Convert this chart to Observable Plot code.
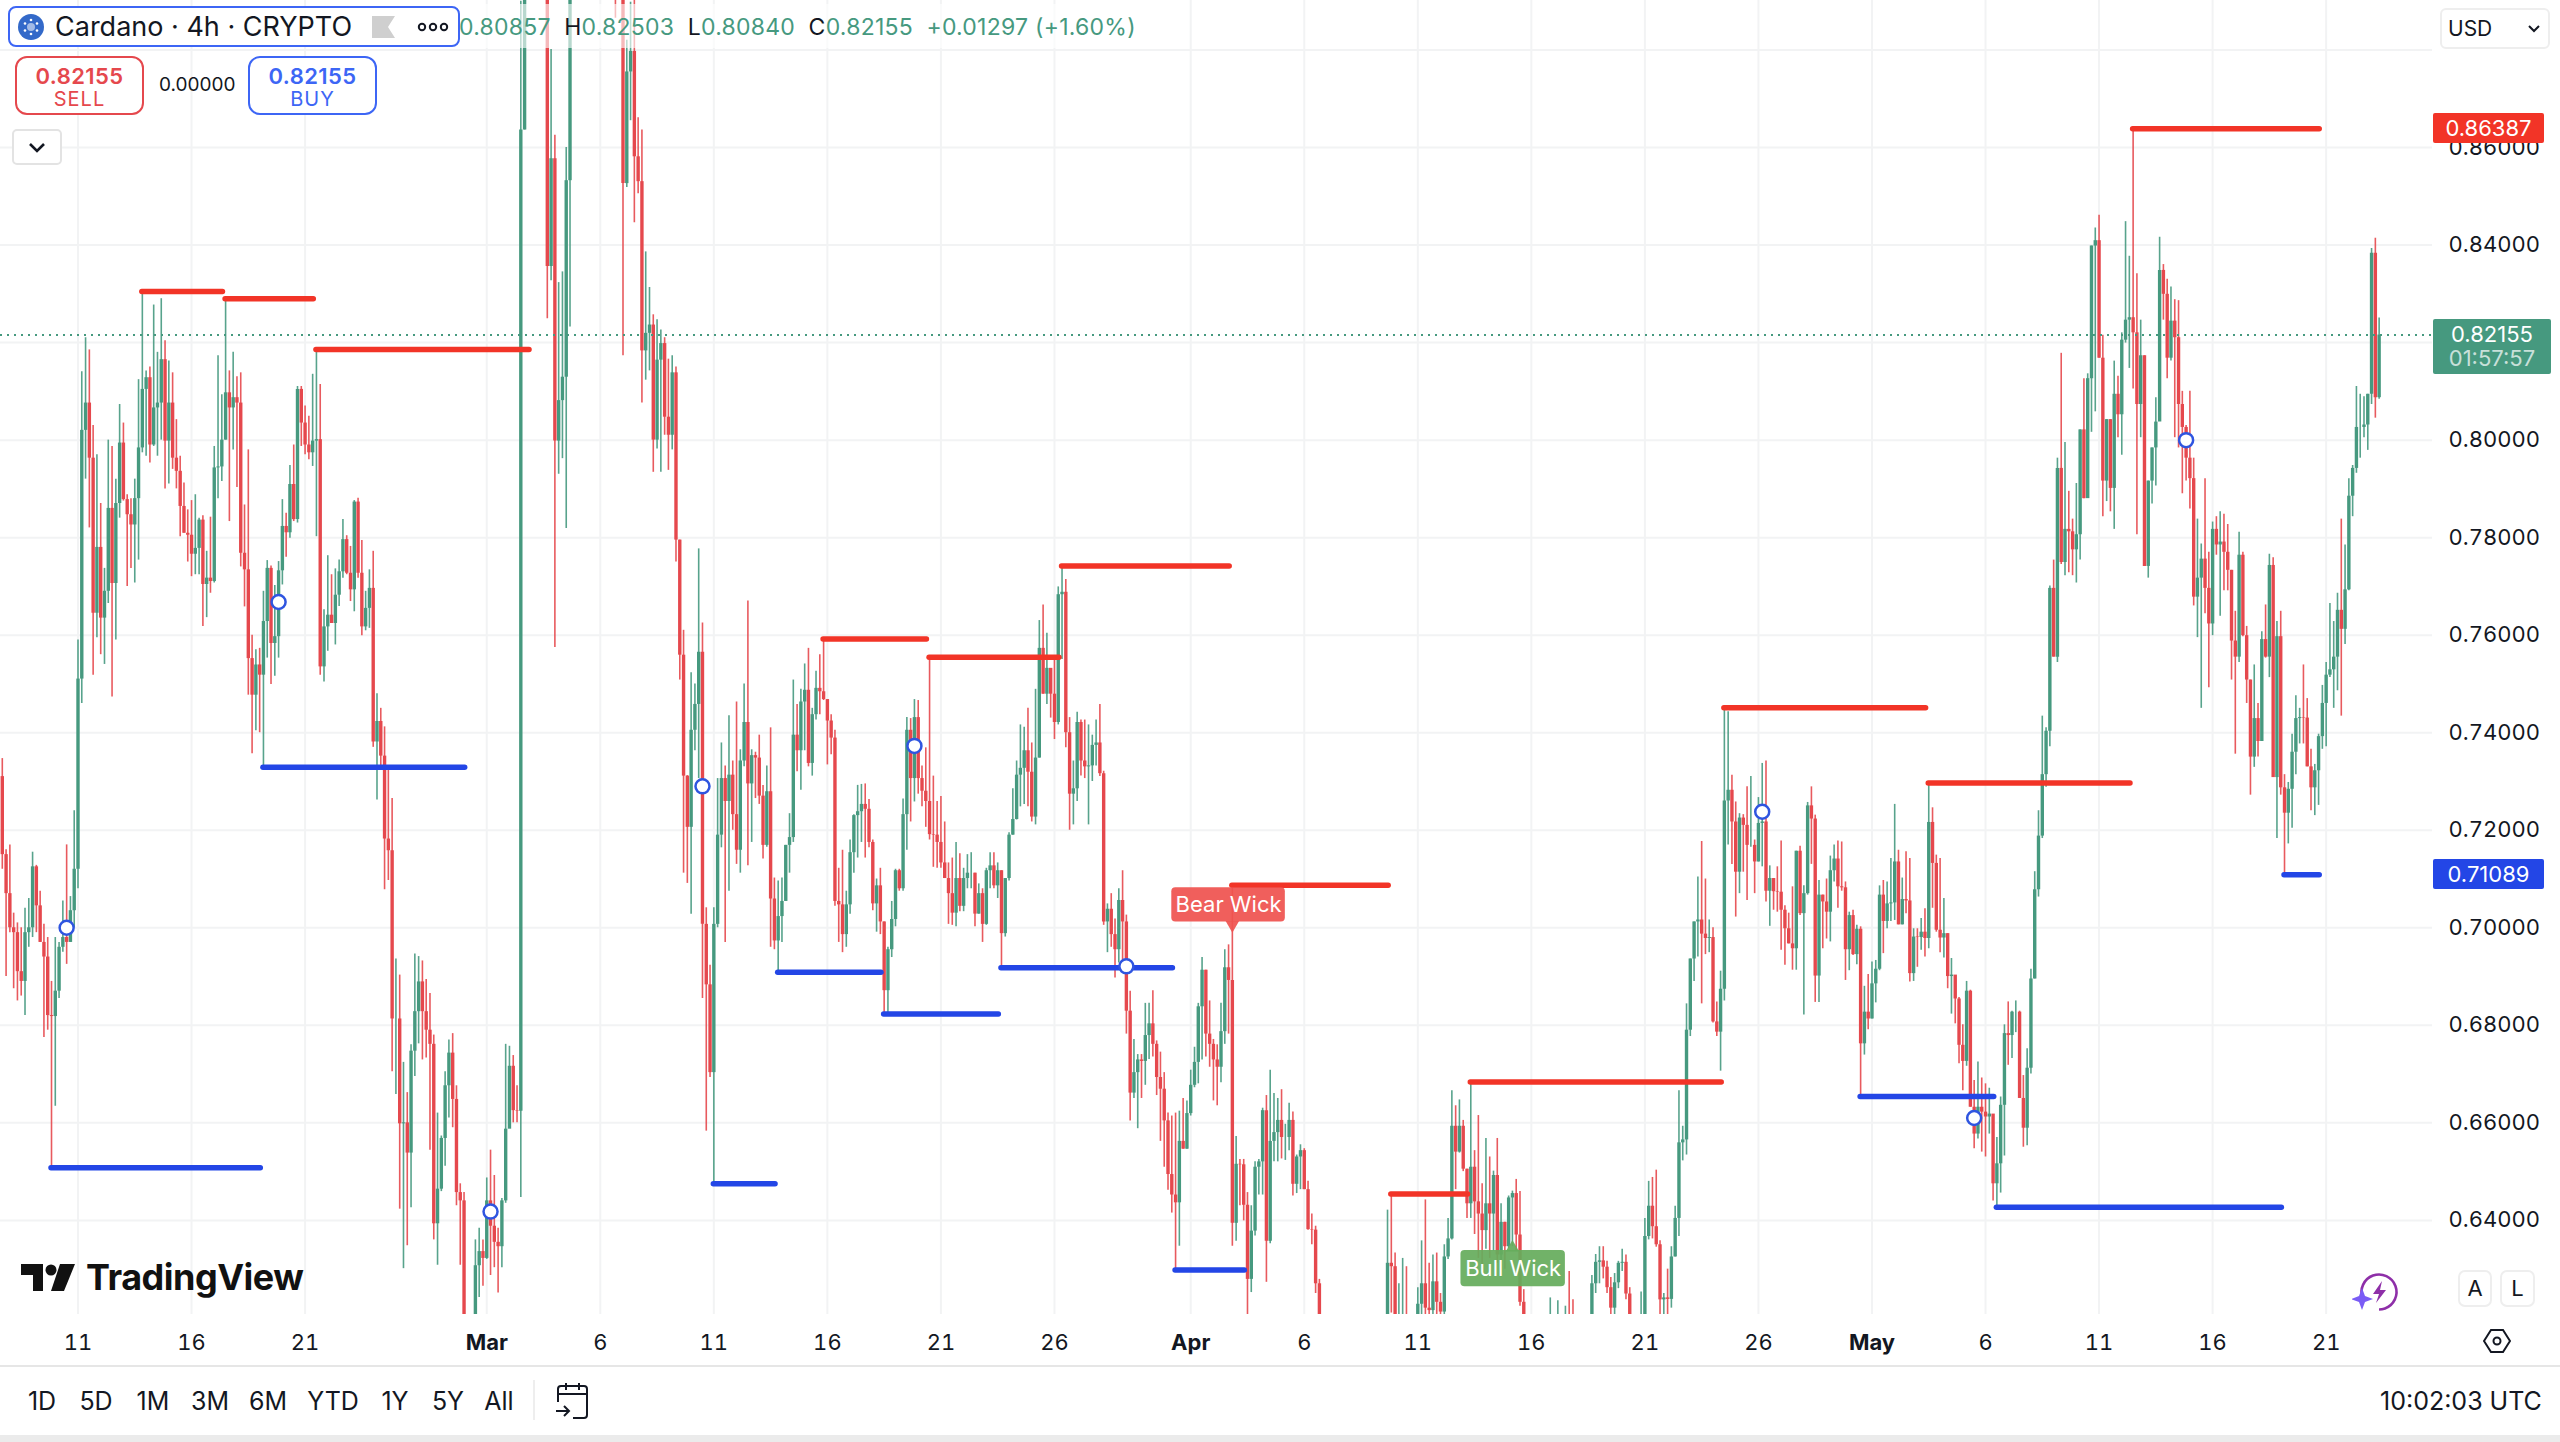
<!DOCTYPE html>
<html lang="en">
<head>
<meta charset="utf-8">
<title>Cardano 4h CRYPTO</title>
<script src="https://cdn.jsdelivr.net/npm/d3@7"></script>
<script src="https://cdn.jsdelivr.net/npm/@observablehq/plot@0.6"></script>
<style>
html,body{margin:0;padding:0;background:#fff;}
body{font-family:Inter,"Noto Sans",sans-serif;color:#131722;}
#page{position:relative;width:2560px;height:1442px;overflow:hidden;background:#fff;}
#page svg.plot{display:block;position:absolute;left:0;top:0;}
.ui{position:absolute;white-space:nowrap;box-sizing:border-box;}
.ui svg{display:block;}
.box{border-radius:12px;background:#fff;text-align:center;}
.price{color:#fff;font-size:22px;line-height:1;text-align:center;border-radius:2px;}
.rng{position:absolute;top:1387px;font-size:25px;line-height:28px;transform:translateX(-50%);color:#131722;}
</style>
</head>
<body>
<div id="page"></div>
<script>
const closes = [
7150,7070,7000,6990,6910,6890,6990,7000,7125,7045,
6970,6940,6820,6818,6870,6960,6980,6970,7035,7120,
7510,8020,8076,7963,7645,7780,7635,7690,7860,7706,
7870,7994,7878,7847,7826,7880,7984,8104,8128,7990,
8066,8076,8165,7998,8076,7963,7936,7864,7809,7805,
7766,7778,7836,7704,7717,7710,7943,7945,8000,8097,
8066,8087,8076,7768,7734,7552,7477,7539,7518,7628,
7737,7583,7597,7732,7823,7810,7909,7837,8104,8035,
7990,7974,7998,8001,7535,7617,7641,7624,7682,7730,
7796,7727,7693,7873,7727,7617,7655,7696,7381,7423,
7352,7182,7158,6813,6813,6598,6600,6538,6747,6828,
6889,6828,6790,6761,6393,6464,6568,6676,6743,6648,
6457,6440,6200,6120,6100,6307,6336,6322,6440,6388,
6355,6346,6440,6587,6716,6625,6624,8636,9800,10500,
10200,11000,10600,9900,8356,8577,7998,8081,8129,8532,
9000,9300,9600,9800,10100,9900,9500,9700,9400,9600,
9300,9500,9300,9400,8526,8755,8797,8581,8530,8183,
8219,8236,8000,8164,8198,8047,8010,8138,7795,7559,
7311,7206,7405,7458,7565,7007,6883,6703,7007,7190,
7306,7259,7313,7232,7159,7342,7421,7295,7353,7348,
7270,7169,7279,7059,6973,7023,7054,7169,7185,7395,
7363,7463,7487,7337,7437,7491,7484,7468,7424,7389,
7054,7047,6986,7047,7154,7230,7238,7253,7243,7175,
7049,7086,7012,6871,6955,7017,7117,7080,7232,7405,
7306,7431,7306,7280,7259,7191,7190,7175,7133,7101,
7070,7030,7101,7044,7101,7112,7112,7028,7070,7007,
7117,7127,7086,7117,6988,7101,7190,7222,7313,7327,
7363,7319,7227,7348,7573,7479,7532,7479,7421,7683,
7688,7400,7274,7285,7421,7342,7330,7332,7374,7379,
7316,7012,7038,6986,6955,7056,7012,6829,6661,6703,
6729,6726,6779,6803,6761,6693,6669,6604,6494,6452,
6436,6562,6546,6619,6677,6724,6838,6913,6782,6761,
6729,6714,6787,6918,6892,6394,6515,6514,6431,6279,
6378,6509,6520,6625,6357,6562,6580,6605,6570,6570,
6605,6474,6530,6543,6463,6381,6380,6270,6120,5900,
5750,5800,5650,5600,5700,5850,5750,5600,5450,5300,
5500,5650,5550,5700,5900,6100,6312,6305,6150,6180,
6200,6160,6120,6150,6228,6270,6220,6215,6274,6232,
6212,6325,6362,6593,6540,6593,6505,6434,6509,6438,
6413,6379,6434,6413,6492,6329,6396,6346,6446,6455,
6370,6232,6201,6170,6150,6120,6170,6140,6110,6160,
6130,6170,6140,6180,6160,6130,6110,6100,6120,6150,
6270,6314,6317,6304,6262,6220,6272,6312,6314,6249,
6195,6150,6120,6180,6367,6429,6387,6350,6237,6241,
6238,6325,6404,6559,6565,6790,6936,7012,7016,6987,
6978,6980,6807,6786,6874,7260,7282,7217,7114,7225,
7210,7169,7169,7135,7214,7217,7075,7101,7074,7073,
7036,6998,6967,6957,7157,7029,7070,7250,7223,6901,
7067,7053,7032,7117,7141,7084,7082,6955,7025,6945,
6997,6762,6827,6813,6885,6915,7067,7013,7049,7051,
7135,7006,7058,7055,6906,6981,6980,6991,6978,7216,
7132,6995,6979,6988,6900,6903,6854,6759,6726,6870,
6632,6577,6632,6622,6612,6618,6475,6516,6636,6783,
6779,6827,6827,6650,6589,6712,6895,7078,7188,7314,
7403,7696,7555,7942,7749,7817,7812,7775,7806,8021,
7880,8126,8398,8409,8168,7916,8042,7901,8094,8052,
8205,8246,8251,8220,8073,8173,7741,7916,7984,8037,
8348,8299,8168,8244,8210,8073,8026,7963,7921,7678,
7717,7756,7696,7623,7817,7785,7791,7770,7733,7588,
7555,7764,7599,7508,7350,7429,7382,7591,7555,7743,
7308,7597,7287,7235,7284,7360,7429,7431,7430,7330,
7287,7322,7392,7460,7518,7529,7555,7651,7612,7693,
7885,7942,8026,8026,8031,8094,8383,8087,8215.5
];
const highs = [
7347,7160,7170,7030,7010,7000,7040,7060,7155,7128,
7075,7007,6980,6890,6980,6970,7055,7170,7064,7240,
7590,8140,8210,8185,8030,7970,7870,7737,8000,7987,
7920,8073,8035,7888,7880,7920,8124,8305,8142,8150,
8277,8180,8290,8204,8162,8138,8042,7967,7912,7857,
7876,7888,7840,7845,7772,7842,7987,8173,8093,8290,
8142,8180,8130,8138,7867,7980,7600,7570,7573,7690,
7753,7742,7702,7751,7878,7850,7948,7990,8110,8110,
8070,8049,8135,8186,8114,7652,7763,7724,7736,7754,
7837,7804,7782,7876,7881,7794,7690,7734,7772,7480,
7450,7412,7330,7265,6936,6903,6724,6662,6760,6946,
6941,6932,6894,6865,6780,6620,6573,6705,6770,6783,
6676,6475,6457,6200,6170,6360,6384,6360,6487,6544,
6492,6384,6445,6761,6757,6738,6676,8900,10000,10900,
10800,11700,11200,10700,9900,8801,8625,8323,8345,8600,
9200,9500,9800,10100,10300,10200,9900,10000,9800,9900,
9700,9700,9600,9600,9400,8820,8898,9000,8661,8636,
8386,8313,8257,8247,8226,8210,8166,8173,8150,7795,
7610,7312,7523,7500,7777,7625,7041,6923,7041,7306,
7379,7332,7435,7342,7463,7365,7500,7670,7365,7360,
7395,7292,7332,7410,7102,7096,7102,7169,7234,7508,
7458,7489,7541,7573,7450,7526,7560,7591,7468,7437,
7405,7122,7159,7075,7180,7232,7292,7294,7295,7263,
7180,7100,7122,7012,6960,7054,7120,7120,7264,7431,
7429,7468,7466,7332,7369,7554,7311,7259,7269,7217,
7133,7143,7175,7152,7122,7150,7154,7112,7090,7080,
7122,7154,7154,7133,7117,7101,7195,7285,7342,7416,
7411,7450,7379,7489,7630,7662,7604,7530,7552,7699,
7741,7714,7431,7342,7442,7426,7426,7416,7395,7426,
7458,7321,7049,7070,7018,7080,7117,7026,6870,6771,
6740,6740,6845,6845,6871,6768,6745,6703,6620,6614,
6620,6624,6650,6645,6708,6755,6845,6939,6913,6850,
6771,6760,6845,6955,6965,7085,6572,6525,6525,6457,
6430,6520,6525,6630,6656,6708,6660,6650,6668,6597,
6640,6622,6534,6555,6547,6480,6413,6388,6279,6120,
5950,5900,5850,5750,5800,5950,5900,5800,5650,5500,
5600,5750,5700,5800,6000,6150,6421,6451,6333,6270,
6322,6305,6195,6190,6262,6358,6442,6312,6329,6333,
6250,6350,6404,6666,6635,6647,6605,6505,6681,6543,
6615,6475,6568,6530,6501,6568,6434,6396,6450,6460,
6484,6459,6258,6207,6195,6180,6195,6190,6185,6241,
6190,6235,6180,6224,6295,6237,6180,6170,6170,6190,
6287,6330,6346,6346,6316,6283,6291,6316,6341,6329,
6262,6195,6180,6253,6404,6480,6488,6503,6358,6250,
6300,6346,6429,6666,6593,6844,6936,7012,7104,7177,
7100,7016,7000,6848,6911,7447,7443,7313,7258,7234,
7232,7289,7310,7180,7267,7337,7342,7127,7101,7125,
7178,7045,7030,7084,7157,7167,7086,7257,7289,7231,
7097,7067,7100,7147,7170,7178,7176,7094,7032,7036,
7005,7002,6880,6904,6930,6933,7086,7097,7094,7142,
7253,7159,7102,7156,7142,6998,6998,7019,7039,7296,
7246,7149,7142,7060,6988,6937,6902,6857,6801,6890,
6872,6687,6725,6692,6680,6671,6615,6570,6653,6801,
6848,6829,6850,6829,6697,6752,6915,7115,7240,7434,
7410,7701,7754,7963,8178,7995,7895,7838,7911,8021,
8126,8136,8398,8435,8461,8215,8042,8042,8162,8131,
8220,8448,8377,8639,8341,8246,8173,7916,7984,8087,
8416,8360,8330,8314,8288,8286,8100,8030,8100,7963,
7838,7787,7921,7770,7832,7843,7853,7848,7827,7733,
7649,7811,7770,7618,7508,7539,7460,7607,7662,7766,
7759,7628,7649,7314,7298,7397,7476,7450,7539,7470,
7366,7335,7397,7497,7544,7665,7628,7686,7838,7785,
7921,7948,8110,8094,8089,8094,8393,8414,8250.3
];
const lows = [
7120,6900,6990,6875,6850,6860,6820,6960,6980,6990,
6970,6775,6790,6505,6634,6855,6950,6925,6970,7000,
7080,7460,7920,7820,7518,7595,7560,7540,7665,7473,
7590,7840,7875,7700,7737,7707,7754,7974,7967,7953,
7987,7967,8000,7900,7910,7940,7900,7802,7809,7750,
7720,7724,7724,7618,7636,7686,7707,7880,7915,8000,
7833,7980,7903,7740,7658,7477,7357,7404,7400,7328,
7553,7499,7516,7553,7703,7760,7799,7833,7830,7987,
7970,7960,7946,7802,7518,7504,7567,7624,7580,7659,
7717,7724,7669,7648,7717,7599,7609,7614,7370,7262,
7328,7078,7097,6705,6658,6423,6301,6348,6426,6695,
6762,6729,6733,6544,6360,6308,6459,6511,6610,6590,
6430,6308,6150,6080,6040,6050,6242,6265,6320,6287,
6303,6251,6303,6435,6620,6600,6600,6447,8636,9500,
9800,10000,10300,9600,8249,8327,7575,7930,7962,7819,
8232,9000,9200,9500,9700,9600,9300,9400,9200,9300,
9100,9000,8865,9000,8173,8518,8655,8446,8505,8076,
8123,8142,7934,7982,7934,8010,7938,7980,7750,7508,
7112,7091,7028,7363,7306,6855,6583,6693,6472,7000,
7164,6970,7075,7200,7130,7112,7330,7127,7175,7265,
7253,7141,7165,6960,6955,6907,6970,7054,7112,7175,
7320,7282,7363,7330,7311,7426,7437,7466,7334,7355,
7044,6970,6949,6960,7028,7112,7143,7175,7143,7164,
7035,6991,6986,6820,6820,6939,7002,7075,7075,7159,
7217,7258,7274,7248,7206,7180,7124,7122,7122,7101,
7007,7005,7002,7033,7033,7080,7080,7002,7028,6970,
7005,7080,7080,7060,6918,6981,7096,7190,7221,7248,
7253,7248,7217,7211,7348,7479,7458,7430,7386,7416,
7550,7369,7200,7211,7259,7311,7306,7211,7300,7332,
7310,7005,6949,6960,6897,6928,6923,6782,6604,6650,
6588,6650,6677,6730,6735,6656,6562,6509,6462,6415,
6294,6347,6546,6546,6614,6672,6680,6729,6735,6714,
6645,6635,6682,6761,6782,6347,6357,6430,6399,6200,
6252,6368,6452,6452,6273,6352,6520,6520,6526,6523,
6543,6450,6455,6463,6463,6380,6350,6250,6050,5800,
5650,5700,5550,5500,5500,5650,5600,5400,5300,5150,
5250,5450,5450,5500,5650,5850,6000,6210,6100,6120,
6120,6120,6080,6100,6150,6200,6180,6180,6200,6200,
6200,6200,6320,6360,6463,6538,6500,6404,6404,6371,
6322,6300,6341,6322,6337,6312,6283,6300,6342,6346,
6337,6224,6150,6120,6100,6080,6100,6080,6060,6080,
6090,6120,6100,6120,6120,6100,6070,6060,6080,6100,
6120,6250,6270,6280,6250,6200,6200,6260,6295,6237,
6150,6120,6090,6100,6120,6360,6362,6345,6180,6200,
6200,6220,6325,6367,6522,6534,6777,6890,6940,6844,
6945,6949,6805,6777,6706,6850,7170,7130,7022,7070,
7114,7056,7165,7070,7135,7125,7053,7003,7036,7032,
6954,6923,6967,6913,6913,7025,6821,7067,7130,6847,
6847,6957,6977,6971,7094,7040,7075,6892,6912,6943,
6924,6651,6739,6791,6813,6846,6912,6947,6998,7013,
7015,7006,7006,7029,6889,6890,6919,6954,6940,6957,
7040,6991,6949,6938,6875,6823,6803,6721,6666,6716,
6632,6547,6567,6540,6530,6577,6440,6423,6456,6532,
6718,6732,6785,6650,6550,6553,6700,6895,7063,7183,
7288,7371,7555,7544,7745,7722,7728,7722,7707,7754,
7880,7890,8016,8058,8168,7843,7874,7853,7817,8005,
7969,8199,8147,8105,7806,8005,7741,7717,7869,7906,
8052,8246,8126,8162,8005,7984,7890,7916,7859,7660,
7595,7450,7644,7492,7599,7764,7639,7691,7691,7508,
7356,7544,7597,7460,7272,7329,7350,7382,7553,7513,
7308,7183,7272,7109,7172,7204,7314,7377,7377,7330,
7240,7230,7251,7366,7371,7513,7450,7486,7434,7581,
7691,7843,7932,7963,8005,7979,8073,8045,8084
];

// Levels: first candle, last candle, price
const redLevels = [
  [37,59,.8305],[59,83,.8290],[83,140,.8186],[217,245,.7592],[245,280,.7555],[280,325,.7742],
  [325,367,.7087],[367,388,.6454],[388,455,.6684],[455,509,.7451],[509,563,.7297],[563,613,.86387]
];
const blueLevels = [
  [13,69,.6508],[69,123,.7329],[188,205,.6475],[205,233,.6909],[233,264,.6823],[264,310,.6918],
  [310,329,.6298],[491,527,.6654],[527,603,.6427],[603,613,.71089]
];
const alertCandles = [17,73,129,185,241,297,465,521,577];
const alertPrices = [.7000,.7668,.6418,.7290,.7373,.6921,.7238,.6610,.8000];
const dayTicks = ["2025-02-11","2025-02-16","2025-02-21","2025-03-06","2025-03-11","2025-03-16","2025-03-21","2025-03-26","2025-04-06","2025-04-11","2025-04-16","2025-04-21","2025-04-26","2025-05-06","2025-05-11","2025-05-16","2025-05-21"].map(d=>new Date(d+"T00:00Z"));
const monthTicks = ["2025-03-01","2025-04-01","2025-05-01"].map(d=>new Date(d+"T00:00Z"));
const priceTicks = [.64,.66,.68,.70,.72,.74,.76,.78,.80,.84,.86];
const priceGrid = [...priceTicks,.82,.88];
const lastPrice = .82155;
const wickLabels = [
  {text:"Bear Wick",a:309,b:339,lo:.7012,hi:.7082,cx:324,fill:"#EF5350",tipI:325,tipP:.7006,rot:180},
  {text:"Bull Wick",a:385.4,b:413,lo:.6264,hi:.6338,cx:399.2,fill:"#66AC5C",tipI:399,tipP:.6344,rot:0}
];

const GREEN="#46997F", RED="#E5484D", LRED="#F23427", LBLUE="#2346E6";
const T0 = Date.UTC(2025,1,7,16);
const tAt = i => new Date(T0 + i*4*3600e3);
const candles = closes.map((c,i)=>({t:tAt(i),open:(i?closes[i-1]:7310)/1e4,close:c/1e4,high:highs[i]/1e4,low:lows[i]/1e4}));
const ups = candles.filter(d=>d.close>=d.open), downs = candles.filter(d=>d.close<d.open);
const lvl = a => a.map(([s,e,p])=>({x1:tAt(s),x2:tAt(e-0.7),y:p}));
const alerts = alertCandles.map((c,i)=>({t:tAt(c),p:alertPrices[i]}));
const GRID="#F2F3F4";

const chart = Plot.plot({
  width:2560,height:1442,marginTop:0,marginBottom:128,marginLeft:0,marginRight:128,
  style:{fontFamily:"Inter, sans-serif",fontSize:"22px",color:"#131722",background:"#fff"},
  x:{type:"utc",domain:[tAt(-0.4756),tAt(642.1)],range:[0,2432]},
  y:{domain:[.6207,.89015],range:[1314,0]},
  marks:[
    Plot.ruleX([...dayTicks,...monthTicks],{x:d=>d,stroke:GRID,strokeWidth:2}),
    Plot.ruleY(priceGrid,{y:d=>d,stroke:GRID,strokeWidth:2}),
    Plot.axisY(priceTicks,{anchor:"right",tickSize:0,tickPadding:16,tickFormat:d3.format(".5f"),fontSize:22,label:null}),
    Plot.axisX(dayTicks,{anchor:"bottom",tickSize:0,tickPadding:20,tickFormat:d=>String(d.getUTCDate()),fontSize:22,label:null}),
    Plot.axisX(monthTicks,{anchor:"bottom",tickSize:0,tickPadding:20,tickFormat:d3.utcFormat("%b"),fontSize:22,fontWeight:"bold",label:null}),
    Plot.ruleX(ups,{x:"t",y1:"low",y2:"high",stroke:GREEN,strokeWidth:1.6,strokeOpacity:.9,clip:true}),
    Plot.ruleX(downs,{x:"t",y1:"low",y2:"high",stroke:RED,strokeWidth:1.6,strokeOpacity:.9,clip:true}),
    Plot.ruleX(ups,{x:"t",y1:"open",y2:"close",stroke:GREEN,strokeWidth:3.4,clip:true}),
    Plot.ruleX(downs,{x:"t",y1:"open",y2:"close",stroke:RED,strokeWidth:3.4,clip:true}),
    Plot.ruleY([lastPrice],{y:d=>d,stroke:GREEN,strokeWidth:2,strokeDasharray:"2 5"}),
    Plot.ruleY(lvl(redLevels),{y:"y",x1:"x1",x2:"x2",stroke:LRED,strokeWidth:5.5,strokeLinecap:"round",clip:true}),
    Plot.ruleY(lvl(blueLevels),{y:"y",x1:"x1",x2:"x2",stroke:LBLUE,strokeWidth:5.5,strokeLinecap:"round",clip:true}),
    Plot.dot(alerts,{x:"t",y:"p",r:7,fill:"#fff",stroke:"#2F55E0",strokeWidth:2.5}),
    Plot.rect(wickLabels,{x1:d=>tAt(d.a),x2:d=>tAt(d.b),y1:"lo",y2:"hi",fill:"fill",fillOpacity:.93,rx:4}),
    Plot.dot(wickLabels,{x:d=>tAt(d.tipI),y:"tipP",symbol:"triangle",rotate:"rot",r:5,fill:"fill",fillOpacity:.93}),
    Plot.text(wickLabels,{x:d=>tAt(d.cx),y:d=>(d.lo+d.hi)/2,text:"text",fill:"#fff",fontSize:22})
  ]
});
const page=document.getElementById("page");
page.appendChild(chart);

function ui(css,html,cls){const e=document.createElement("div");e.className="ui "+(cls||"");e.style.cssText=css;e.innerHTML=html;page.appendChild(e);return e;}
// legend header
ui("left:459px;top:4px;width:690px;height:44px;background:rgba(255,255,255,.62);font-size:23px;line-height:46px;color:#46997F;letter-spacing:.25px;",
   '0.80857 <span style="color:#131722">&nbsp;H</span>0.82503 <span style="color:#131722">&nbsp;L</span>0.80840 <span style="color:#131722">&nbsp;C</span>0.82155 &nbsp;+0.01297 (+1.60%)');
ui("left:8px;top:6px;width:452px;height:41px;border:2px solid #3D66F5;border-radius:8px;background:#fff;",'');
ui("left:18px;top:14px;width:26px;height:26px;",
   '<svg width="26" height="26" viewBox="0 0 26 26"><circle cx="13" cy="13" r="13" fill="#3369C9"/><g fill="#fff"><circle cx="13" cy="13" r="4" fill-opacity=".55"/><circle cx="13" cy="6" r="1.3"/><circle cx="13" cy="20" r="1.3"/><circle cx="7" cy="9.5" r="1.3"/><circle cx="19" cy="9.5" r="1.3"/><circle cx="7" cy="16.5" r="1.3"/><circle cx="19" cy="16.5" r="1.3"/></g></svg>');
ui("left:55px;top:6px;font-size:27px;line-height:42px;color:#131722;",'Cardano · 4h · CRYPTO');
ui("left:372px;top:16px;width:23px;height:22px;",'<svg width="23" height="22" viewBox="0 0 23 22"><path d="M0 0H23L16 11L23 22H0Z" fill="#CFCFCF"/></svg>');
ui("left:417px;top:22px;width:32px;height:10px;",'<svg width="32" height="10" viewBox="0 0 32 10"><g fill="none" stroke="#131722" stroke-width="2"><circle cx="5" cy="5" r="3.2"/><circle cx="16" cy="5" r="3.2"/><circle cx="27" cy="5" r="3.2"/></g></svg>');
// sell / buy
ui("left:15px;top:56px;width:129px;height:59px;border:2px solid #E5484D;color:#E5484D;",'<div style="font-size:22px;font-weight:600;letter-spacing:.4px;line-height:22px;margin-top:7px">0.82155</div><div style="font-size:20px;letter-spacing:1px;line-height:25px">SELL</div>',"box");
ui("left:248px;top:56px;width:129px;height:59px;border:2px solid #3D66F5;color:#3D66F5;",'<div style="font-size:22px;font-weight:600;letter-spacing:.4px;line-height:22px;margin-top:7px">0.82155</div><div style="font-size:20px;letter-spacing:1px;line-height:25px">BUY</div>',"box");
ui("left:159px;top:73px;font-size:19px;line-height:24px;color:#131722;",'0.00000');
ui("left:12px;top:129px;width:50px;height:36px;border:2px solid #E3E3E3;border-radius:5px;background:#fff;",'<svg width="46" height="32" viewBox="0 0 46 32"><path d="M16 13L23 20L30 13" fill="none" stroke="#131722" stroke-width="2.6"/></svg>');
// currency
ui("left:2440px;top:8px;width:110px;height:41px;border:2px solid #EEE;border-radius:6px;background:#fff;font-size:21px;line-height:37px;padding-left:6px;",'USD<svg style="position:absolute;right:8px;top:15px" width="12" height="8" viewBox="0 0 12 8"><path d="M1 1L6 6L11 1" fill="none" stroke="#131722" stroke-width="2"/></svg>');
// price tags
ui("left:2433px;top:113px;width:111px;height:30px;background:#F23427;line-height:30px;",'0.86387',"price");
ui("left:2433px;top:859px;width:111px;height:30px;background:#2346E6;line-height:30px;",'0.71089',"price");
ui("left:2433px;top:319px;width:118px;height:55px;background:#46997F;padding-top:3px;",'<div style="line-height:24px">0.82155</div><div style="line-height:24px;opacity:.7">01:57:57</div>',"price");
// logo
ui("left:20px;top:1264px;width:56px;height:27px;",'<svg width="56" height="27" viewBox="0 0 56 27"><path d="M1 0H23V27H13V11H1Z" fill="#111"/><circle cx="31" cy="6" r="5.5" fill="#111"/><path d="M40 0H55L44 27H31Z" fill="#111"/></svg>');
ui("left:86px;top:1254px;font-size:36px;line-height:46px;font-weight:700;color:#111;letter-spacing:-.5px;",'TradingView');
// A L buttons & icons
ui("left:2458px;top:1270px;width:34px;height:37px;border:2px solid #EEE;border-radius:7px;text-align:center;font-size:22px;line-height:33px;background:#fff;",'A');
ui("left:2500px;top:1270px;width:35px;height:37px;border:2px solid #EEE;border-radius:7px;text-align:center;font-size:22px;line-height:33px;background:#fff;",'L');
ui("left:2352px;top:1270px;width:48px;height:46px;",'<svg width="48" height="46" viewBox="0 0 48 46"><circle cx="27" cy="22" r="17.5" fill="none" stroke="#8E2FA8" stroke-width="2.6" stroke-dasharray="88 22" transform="rotate(160 27 22)"/><path d="M30 11L21 24H27L24 33L34 20H28Z" fill="#8E2FA8"/><path d="M10 18L13 26L21 29L13 32L10 40L7 32L-1 29L7 26Z" fill="#7A5CF5"/></svg>');
ui("left:2483px;top:1327px;width:28px;height:28px;",'<svg width="28" height="28" viewBox="0 0 28 28"><path d="M8 3H20L27 14L20 25H8L1 14Z" fill="none" stroke="#131722" stroke-width="2"/><circle cx="14" cy="14" r="3.5" fill="none" stroke="#131722" stroke-width="2"/></svg>');
// bottom bar
ui("left:0;top:1365px;width:2560px;height:2px;background:#E6E6E6;",'');
ui("left:0;top:1435px;width:2560px;height:7px;background:#EBEBEB;",'');
const ranges=[["1D",42],["5D",96],["1M",153],["3M",210],["6M",268],["YTD",333],["1Y",395],["5Y",448],["All",499]];
ranges.forEach(([t,x])=>{const e=document.createElement("div");e.className="rng";e.style.left=x+"px";e.textContent=t;page.appendChild(e);});
ui("left:533px;top:1380px;width:2px;height:40px;background:#EEE;",'');
ui("left:555px;top:1382px;width:36px;height:38px;",'<svg width="36" height="38" viewBox="0 0 36 38"><path d="M3 20V7Q3 4 6 4H29Q32 4 32 7V33Q32 36 29 36H18M3 12H32M11 1V8M24 1V8M1 29H14M9 24L14 29L9 34" fill="none" stroke="#131722" stroke-width="2"/></svg>');
ui("left:2380px;top:1387px;font-size:25px;line-height:28px;color:#131722;",'10:02:03 UTC');
</script>
</body>
</html>
